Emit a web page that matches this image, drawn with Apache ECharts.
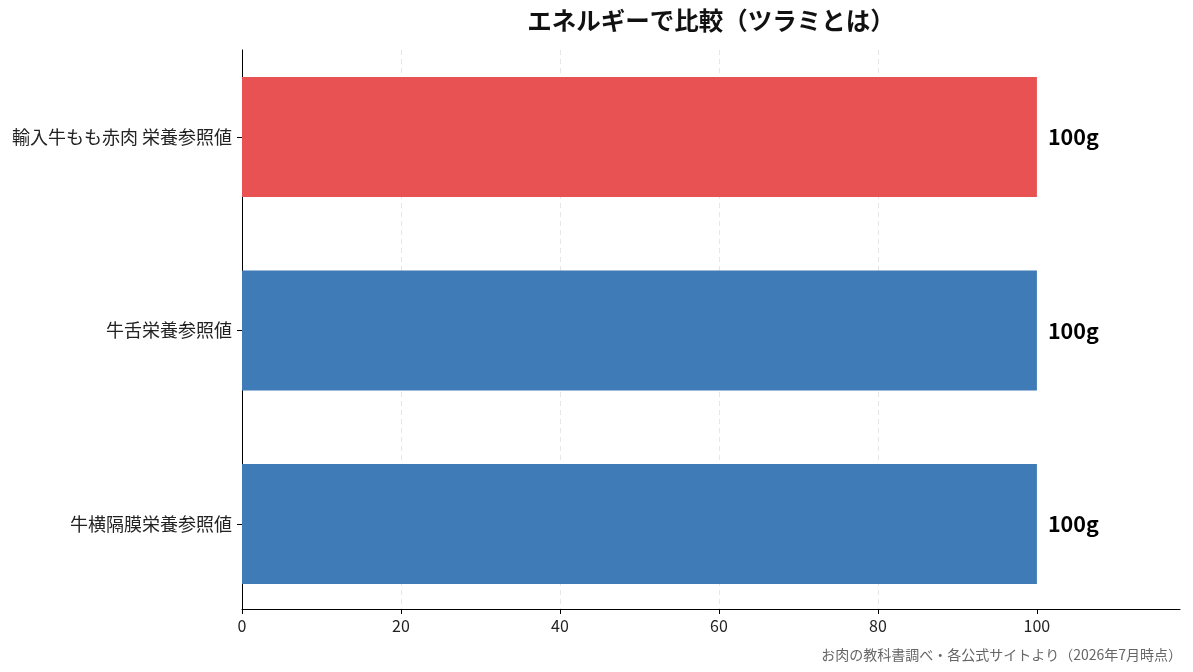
<!DOCTYPE html>
<html>
<head>
<meta charset="utf-8">
<script src="https://cdn.jsdelivr.net/npm/echarts@6/dist/echarts.min.js"></script>
<style>
html,body{margin:0;padding:0;background:#fff;}
#main{width:1193px;height:672px;}
</style>
</head>
<body>
<div id="main"></div>
<script>
const titleText = 'エネルギーで比較（ツラミとは）';
const sourceText = 'お肉の教科書調べ・各公式サイトより（2026年7月時点）';
const categories = ['輸入牛もも赤肉 栄養参照値', '牛舌栄養参照値', '牛横隔膜栄養参照値'];
const values = [100, 100, 100];
const unit = 'g';
const xTicks = [0, 20, 40, 60, 80, 100];
const xMax = 118;

const FONT = '"Noto Sans CJK JP", "Noto Sans", sans-serif';
const RED = '#E85253';
const BLUE = '#3F7BB6';

const chart = echarts.init(document.getElementById('main'), null, {renderer: 'canvas'});
const option = {
  backgroundColor: '#ffffff',
  animation: false,
  graphic: [
    {type: 'text', x: 711, y: 21, style: {text: titleText, font: 'bold 24.5px ' + FONT, fill: '#111', textAlign: 'center', textVerticalAlign: 'middle'}},
    {type: 'text', x: 1182, y: 655, style: {text: sourceText, font: '14px ' + FONT, fill: '#666', textAlign: 'right', textVerticalAlign: 'middle'}}
  ],
  grid: [
    {left: 242, right: 13, top: 40.25, height: 580.5, containLabel: false},
    {left: 242, right: 13, top: 50, bottom: 63, containLabel: false}
  ],
  xAxis: [
    {gridIndex: 0, type: 'value', min: 0, max: xMax, show: false},
    {gridIndex: 1, type: 'value', min: 0, max: xMax, interval: 20,
      axisLine: {show: true, lineStyle: {color: '#000', width: 1}},
      axisTick: {show: true, length: 5, lineStyle: {color: '#000'}, customValues: xTicks},
      axisLabel: {show: true, margin: 9, fontSize: 16, color: '#222', fontFamily: FONT, customValues: xTicks},
      splitLine: {show: true, showMaxLine: false, showMinLine: false, lineStyle: {color: '#e6e6e6', type: [5, 4], width: 1}}
    }
  ],
  yAxis: [
    {gridIndex: 0, type: 'category', data: categories, inverse: true,
      axisLine: {show: false},
      axisTick: {show: true, alignWithLabel: true, length: 5, lineStyle: {color: '#000'}},
      axisLabel: {margin: 10, fontSize: 18, color: '#222', fontFamily: FONT},
      splitLine: {show: false}
    },
    {gridIndex: 1, type: 'value', min: 0, max: 1,
      axisLine: {show: true, lineStyle: {color: '#000', width: 1}},
      axisTick: {show: false}, axisLabel: {show: false}, splitLine: {show: false}
    }
  ],
  series: [
    {type: 'bar', xAxisIndex: 0, yAxisIndex: 0, barWidth: 120,
      data: values.map((v, i) => ({value: v, itemStyle: {color: i === 0 ? RED : BLUE}})),
      label: {show: true, position: 'right', distance: 11, formatter: p => p.value + unit,
        fontSize: 21.5, fontWeight: 'bold', color: '#000', fontFamily: FONT}
    }
  ]
};
chart.setOption(option);
</script>
</body>
</html>
